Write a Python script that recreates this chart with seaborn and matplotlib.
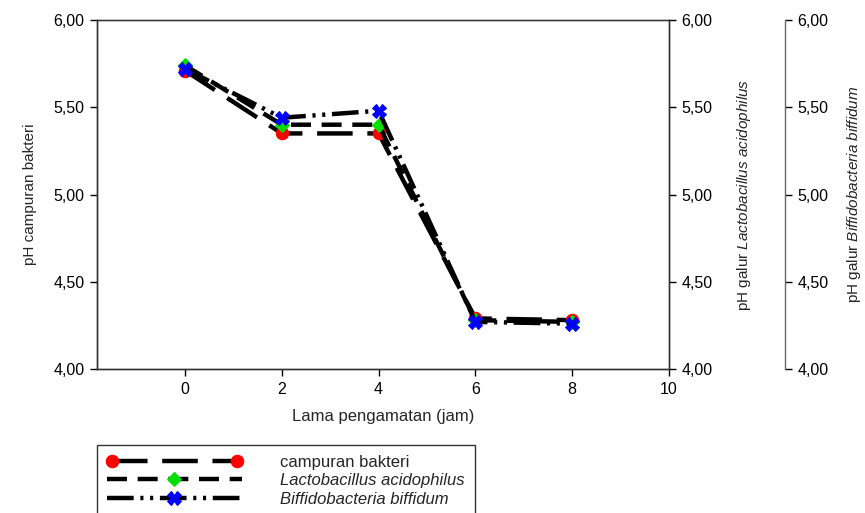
"""
pH selama pengamatan: campuran bakteri vs galur tunggal
"""
import matplotlib
matplotlib.use('Agg')
import matplotlib.pyplot as plt
import seaborn as sns
import pandas as pd
from matplotlib.ticker import FuncFormatter, FixedLocator
from matplotlib.legend_handler import HandlerLine2D

# data
jam = [0, 2, 4, 6, 8]
ph_campuran = [5.71, 5.35, 5.35, 4.29, 4.28]
ph_lactobacillus = [5.74, 5.40, 5.40, 4.28, 4.27]
ph_biffido = [5.72, 5.44, 5.48, 4.27, 4.26]

labels = ['campuran bakteri', 'Lactobacillus acidophilus', 'Biffidobacteria biffidum']
x_ticks = [0, 2, 4, 6, 8, 10]
y_ticks = [4.0, 4.5, 5.0, 5.5, 6.0]

sns.set_theme(style='ticks')
plt.rcParams['font.family'] = ['Liberation Sans', 'DejaVu Sans']
plt.rcParams['mathtext.fontset'] = 'custom'
plt.rcParams['mathtext.rm'] = 'Liberation Sans'
plt.rcParams['mathtext.it'] = 'Liberation Sans:italic'
FS_TICK = 11.5
FS_YLAB = 11
FS_XLAB = 12
FS_LEG = 12

df = pd.DataFrame({'jam': jam, 'campuran': ph_campuran,
                   'lacto': ph_lactobacillus, 'biffido': ph_biffido})

fig = plt.figure(figsize=(8.65, 5.13), dpi=100)
ax = fig.add_axes([0.1121, 0.2807, 0.6613, 0.6803])
ax2 = ax.twinx()
ax3 = ax.twinx()

lw = 3.2
sns.lineplot(data=df, x='jam', y='campuran', ax=ax, color='black', lw=lw,
             linestyle=(0, (8, 3.3)), marker='o', markersize=9,
             markerfacecolor='red', markeredgecolor='red', label=labels[0],
             legend=False)
sns.lineplot(data=df, x='jam', y='lacto', ax=ax2, color='black', lw=lw,
             linestyle=(0, (4.5, 2.4)), marker='D', markersize=7,
             markerfacecolor='#00e000', markeredgecolor='#00e000', label=labels[1],
             legend=False)
sns.lineplot(data=df, x='jam', y='biffido', ax=ax3, color='black', lw=lw,
             linestyle=(0, (6, 1.5, 0.7, 1.5, 0.7, 1.5)), marker='X', markersize=10,
             markerfacecolor='blue', markeredgecolor='blue', label=labels[2],
             legend=False)

fmt = FuncFormatter(lambda v, p: f"{v:.2f}".replace('.', ','))
for a in (ax, ax2, ax3):
    a.set_ylim(4.0, 6.0)
    a.yaxis.set_major_locator(FixedLocator(y_ticks))
    a.yaxis.set_major_formatter(fmt)
    a.tick_params(axis='both', direction='out', length=5, width=1,
                  labelsize=FS_TICK, colors='black', pad=4)
    a.set_xlim(-1.82, 10)

ax.set_xticks(x_ticks)
ax.set_xticklabels([str(t) for t in x_ticks])

ax.set_xlabel('Lama pengamatan (jam)', fontsize=FS_XLAB)
ax.set_ylabel('pH campuran bakteri', fontsize=FS_YLAB)
ax.xaxis.set_label_coords(0.5, -0.116)
ax.yaxis.set_label_coords(-0.105, 0.5)

ax2.set_ylabel(r'pH galur $\it{Lactobacillus\ acidophilus}$', fontsize=FS_YLAB)
ax2.yaxis.set_label_coords(1.1154, 0.5)
ax3.set_ylabel(r'pH galur $\it{Biffidobacteria\ biffidum}$', fontsize=FS_YLAB)
ax3.yaxis.set_label_coords(1.3077, 0.5)

for a in (ax, ax2, ax3):
    for s in a.spines.values():
        s.set_color('#333333')
        s.set_linewidth(1)
ax.spines['top'].set_color('#888888')

ax3.spines['right'].set_position(('axes', 1.203))
ax3.spines['right'].set_color('#666666')
for s in ('left', 'top', 'bottom'):
    ax3.spines[s].set_visible(False)

# legenda
h1 = ax.get_lines()[0]
h2 = ax2.get_lines()[0]
h3 = ax3.get_lines()[0]
leg = fig.legend([h1, h2, h3], labels, loc='upper left',
                 bbox_to_anchor=(0.112, 0.1326), fontsize=FS_LEG,
                 handlelength=8.1, handletextpad=2.3, labelspacing=0.2,
                 numpoints=1, fancybox=False, framealpha=1,
                 borderpad=0.6, borderaxespad=0,
                 handler_map={h1: HandlerLine2D(numpoints=2)})
leg.get_frame().set_edgecolor('#333333')
leg.get_frame().set_linewidth(1)
leg.get_texts()[1].set_fontstyle('italic')
leg.get_texts()[2].set_fontstyle('italic')

fig.savefig('out.png', dpi=100)
